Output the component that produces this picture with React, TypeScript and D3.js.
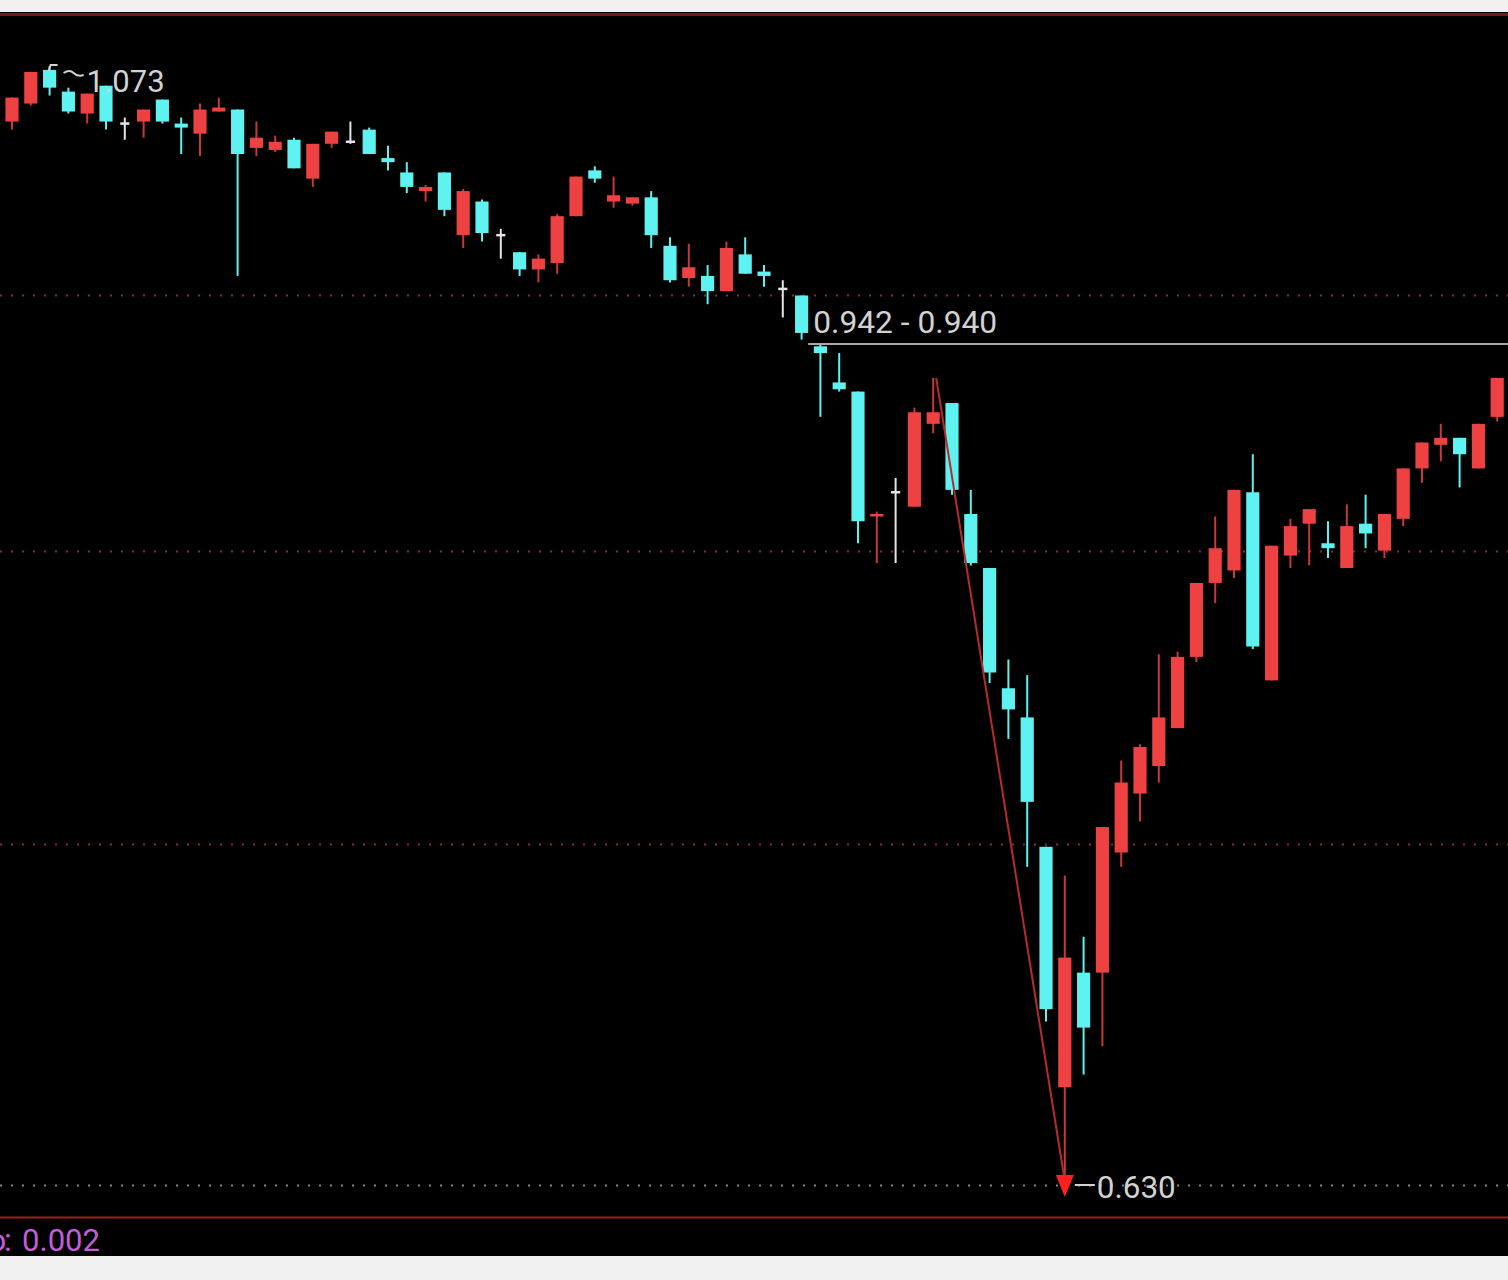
import React from "react";
import * as d3 from "d3";

// candle values (price, log axis)
const openV = [
  1.045, 1.054, 1.071, 1.06, 1.049, 1.063, 1.044, 1.045, 1.056, 1.044,
  1.039, 1.05, 1.051, 1.032, 1.031, 1.036, 1.017, 1.034, 1.035, 1.041,
  1.027, 1.02, 1.011, 1.02, 0.99, 1.006, 0.99, 0.982, 0.974, 0.977,
  0.999, 1.021, 1.006, 1.005, 1.008, 0.985, 0.97, 0.971, 0.964, 0.981,
  0.973, 0.965, 0.962, 0.939, 0.923, 0.919, 0.866, 0.876, 0.87, 0.905,
  0.914, 0.867, 0.845, 0.798, 0.787, 0.74, 0.66, 0.697, 0.697, 0.738,
  0.759, 0.769, 0.783, 0.81, 0.839, 0.844, 0.876, 0.801, 0.85, 0.863,
  0.855, 0.845, 0.863, 0.852, 0.865, 0.886, 0.896, 0.899, 0.886, 0.908,
];
const closeV = [
  1.057, 1.07, 1.062, 1.05, 1.059, 1.045, 1.044, 1.051, 1.045, 1.042,
  1.051, 1.052, 1.029, 1.037, 1.035, 1.022, 1.034, 1.04, 1.035, 1.029,
  1.025, 1.013, 1.013, 1.002, 1.011, 0.991, 0.99, 0.974, 0.979, 0.999,
  1.018, 1.017, 1.009, 1.008, 0.99, 0.969, 0.975, 0.964, 0.984, 0.972,
  0.971, 0.965, 0.945, 0.936, 0.92, 0.864, 0.867, 0.876, 0.91, 0.91,
  0.877, 0.847, 0.804, 0.79, 0.756, 0.685, 0.702, 0.679, 0.747, 0.763,
  0.776, 0.787, 0.81, 0.839, 0.853, 0.877, 0.814, 0.854, 0.862, 0.869,
  0.853, 0.862, 0.859, 0.867, 0.886, 0.897, 0.899, 0.892, 0.905, 0.925,
];
const highV = [
  1.057, 1.07, 1.073, 1.062, 1.059, 1.063, 1.047, 1.051, 1.056, 1.047,
  1.054, 1.057, 1.051, 1.045, 1.038, 1.037, 1.034, 1.04, 1.045, 1.042,
  1.033, 1.025, 1.014, 1.02, 1.012, 1.007, 0.993, 0.982, 0.981, 1.0,
  1.018, 1.023, 1.018, 1.008, 1.011, 0.989, 0.986, 0.976, 0.987, 0.989,
  0.976, 0.969, 0.962, 0.94, 0.936, 0.919, 0.868, 0.882, 0.912, 0.925,
  0.914, 0.877, 0.845, 0.809, 0.803, 0.74, 0.73, 0.709, 0.747, 0.771,
  0.777, 0.811, 0.812, 0.839, 0.866, 0.877, 0.892, 0.854, 0.865, 0.869,
  0.864, 0.871, 0.875, 0.867, 0.886, 0.897, 0.905, 0.899, 0.905, 0.925,
];
const lowV = [
  1.041, 1.053, 1.058, 1.049, 1.044, 1.041, 1.036, 1.037, 1.044, 1.029,
  1.028, 1.05, 0.971, 1.028, 1.03, 1.022, 1.013, 1.032, 1.034, 1.029,
  1.021, 1.01, 1.006, 0.999, 0.984, 0.987, 0.979, 0.971, 0.968, 0.972,
  0.999, 1.015, 1.003, 1.004, 0.984, 0.968, 0.966, 0.958, 0.964, 0.972,
  0.966, 0.952, 0.942, 0.908, 0.919, 0.855, 0.847, 0.847, 0.87, 0.901,
  0.875, 0.846, 0.8, 0.779, 0.733, 0.681, 0.63, 0.664, 0.673, 0.733,
  0.749, 0.763, 0.783, 0.808, 0.831, 0.841, 0.813, 0.801, 0.845, 0.846,
  0.849, 0.845, 0.853, 0.849, 0.862, 0.88, 0.889, 0.878, 0.886, 0.906,
];

// dotted price levels (range split in four)
const gridV = [0.962, 0.852, 0.741];
const minPrice = 0.63;
const maxPrice = 1.073;
const gapHigh = 0.942;
const gapLow = 0.94;
const trendFrom = 49; // candle whose high starts the red trend line
const trendTo = 56; // candle with the low
const highIdx = 2;
const gapIdx = 42;
const stepText = "0.002";

const RED = "#ee4141";
const CYAN = "#5ef2f0";
const WHITE = "#e4e4e4";
const TXT = "#d2d2d2";

export default function App() {
  const W = 1508;
  const H = 1280;
  const idx = d3.range(openV.length);
  const x = d3
    .scaleBand<number>()
    .domain(idx)
    .range([2.6, 1506.6])
    .paddingInner(0.3)
    .paddingOuter(0.15);
  const y = d3.scaleLog().domain([minPrice, maxPrice]).range([1185, 66]);
  const bw = x.bandwidth();
  const cx = (i: number) => (x(i) as number) + bw / 2;

  const font = { fontFamily: "Roboto, 'DejaVu Sans', sans-serif", fontSize: 32 };

  const trendX1 = cx(trendFrom);
  const trendY1 = y(highV[trendFrom]);
  const lowX = cx(trendTo);
  const lowY = y(minPrice);

  return (
    <svg
      width={W}
      height={H}
      style={{ position: "absolute", left: 0, top: 0, display: "block" }}
    >
      <rect x={0} y={0} width={W} height={H} fill="#f1f1f2" />
      <rect x={0} y={12} width={W} height={1244} fill="#000" />
      <line x1={0} x2={W} y1={14.5} y2={14.5} stroke="#7c1515" strokeWidth={3} />
      <line x1={0} x2={W} y1={1217.5} y2={1217.5} stroke="#a01e1e" strokeWidth={2} />

      {gridV.map((v) => (
        <line
          key={v}
          x1={0}
          x2={W}
          y1={Math.round(y(v)) + 0.5}
          y2={Math.round(y(v)) + 0.5}
          stroke="#8a2c2c"
          strokeWidth={2}
          strokeDasharray="2 9"
        />
      ))}
      <line
        x1={0}
        x2={W}
        y1={Math.round(lowY) + 0.5}
        y2={Math.round(lowY) + 0.5}
        stroke="#8a8080"
        strokeWidth={2}
        strokeDasharray="2 9"
      />

      {idx.map((i) => {
        const o = openV[i];
        const c = closeV[i];
        const col = c > o ? RED : c < o ? CYAN : WHITE;
        const top = y(Math.max(o, c));
        const bot = y(Math.min(o, c));
        const x0 = x(i) as number;
        const m = cx(i);
        return (
          <g key={i}>
            <line
              x1={m}
              x2={m}
              y1={y(highV[i])}
              y2={y(lowV[i])}
              stroke={col}
              strokeWidth={2}
              opacity={c > o ? 0.85 : 1}
            />
            {c === o ? (
              <line x1={x0 + 2} x2={x0 + bw - 2} y1={top} y2={top} stroke={col} strokeWidth={2.5} />
            ) : (
              <rect x={x0} y={top} width={bw} height={Math.max(2.5, bot - top)} fill={col} />
            )}
          </g>
        );
      })}

      {/* trend line from the rebound high down to the low, with arrow head */}
      <line x1={trendX1 + 3} y1={trendY1} x2={lowX} y2={lowY - 4} stroke="#b62b2b" strokeWidth={2} />
      <path
        d={`M${lowX - 9},${lowY - 10} L${lowX + 9},${lowY - 10} L${lowX},${lowY + 12} Z`}
        fill="#ff1f1f"
      />
      <line x1={lowX + 10} x2={lowX + 30} y1={lowY} y2={lowY} stroke={TXT} strokeWidth={2} />
      <text x={lowX + 32} y={lowY + 13} fill={TXT} {...font} textLength={79} lengthAdjust="spacingAndGlyphs">
        {minPrice.toFixed(3)}
      </text>

      {/* gap marker */}
      <line
        x1={(x(gapIdx) as number) + bw}
        x2={W}
        y1={y(gapLow)}
        y2={y(gapLow)}
        stroke="#a9a9a9"
        strokeWidth={2}
      />
      <text
        x={(x(gapIdx) as number) + bw + 5}
        y={y(gapLow) - 11}
        fill={TXT}
        {...font}
        textLength={184}
        lengthAdjust="spacingAndGlyphs"
      >
        {`${gapHigh.toFixed(3)} - ${gapLow.toFixed(3)}`}
      </text>

      {/* high marker */}
      <path
        d={`M${cx(highIdx) - 1},${y(maxPrice) + 5} L${cx(highIdx) + 1},${y(maxPrice) - 1} L${cx(highIdx) + 8},${y(maxPrice) - 1}`}
        fill="none"
        stroke={TXT}
        strokeWidth={2}
      />
      <path
        d={`M${cx(highIdx) + 14},${y(maxPrice) + 7} q6,-4 10,0 t10,2`}
        fill="none"
        stroke={TXT}
        strokeWidth={2}
      />
      <text
        x={cx(highIdx) + 37}
        y={y(maxPrice) + 26}
        fill={TXT}
        {...font}
        textLength={78}
        lengthAdjust="spacingAndGlyphs"
      >
        {maxPrice.toFixed(3)}
      </text>

      {/* step readout, cut at the left edge */}
      <text y={1251} fill="#c25cd8" {...font}>
        <tspan x={-12}>o</tspan>
        <tspan x={4}>:</tspan>
        <tspan x={22} textLength={78} lengthAdjust="spacingAndGlyphs">
          {stepText}
        </tspan>
      </text>
    </svg>
  );
}
